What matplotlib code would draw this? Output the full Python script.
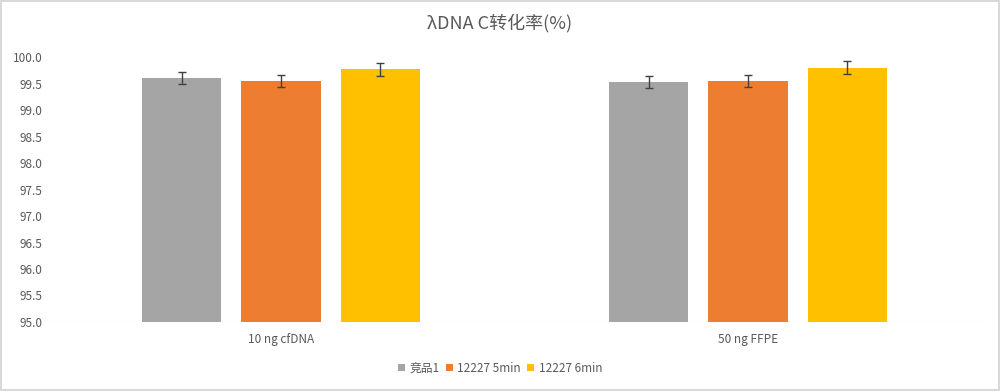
import numpy as np
import matplotlib
matplotlib.use("Agg")
import matplotlib.pyplot as plt

plt.rcParams["font.family"] = ["Noto Sans CJK SC", "DejaVu Sans"]

categories = ["10 ng cfDNA", "50 ng FFPE"]
series = ["竞品1", "12227 5min", "12227 6min"]
values = [
    [99.60, 99.53],
    [99.55, 99.55],
    [99.77, 99.80],
]
errors = [
    [0.11, 0.11],
    [0.12, 0.11],
    [0.12, 0.12],
]
colors = ["#A5A5A5", "#ED7D31", "#FFC000"]
yticks = np.arange(95.0, 100.01, 0.5)

fig = plt.figure(figsize=(10, 3.91), dpi=100)
fig.patch.set_edgecolor("#D9D9D9")
fig.patch.set_linewidth(1.5)
ax = fig.add_axes([0.0475, 0.1765, 0.934, 0.6775])

x = np.arange(len(categories))
w = 0.17
gap = 0.213
for i, (name, vals, errs, c) in enumerate(zip(series, values, errors, colors)):
    ax.bar(x + (i - 1) * gap, vals, w, color=c, label=name,
           yerr=errs, error_kw=dict(ecolor="#404040", elinewidth=1, capsize=3, capthick=1))

ax.set_xlim(-0.5, 1.5)
ax.set_ylim(95.0, 100.0)
ax.set_yticks(yticks)
ax.set_yticklabels([f"{t:.1f}" for t in yticks])
ax.set_xticks(x)
ax.set_xticklabels(categories)
ax.tick_params(length=0, colors="#595959", labelsize=8.5)
ax.tick_params(axis="x", pad=8)
for s in ax.spines.values():
    s.set_visible(False)
ax.axhline(95.0, color="#D9D9D9", lw=0.8, zorder=0)

fig.suptitle("λDNA C转化率(%)", y=0.965, fontsize=13, color="#595959", fontweight="medium")
fig.legend(loc="lower center", bbox_to_anchor=(0.5, 0.015), ncol=3, frameon=False,
           fontsize=8.5, labelcolor="#595959", handlelength=0.6, handleheight=0.6,
           handletextpad=0.4, columnspacing=0.5)

fig.savefig("out.png", dpi=100)
